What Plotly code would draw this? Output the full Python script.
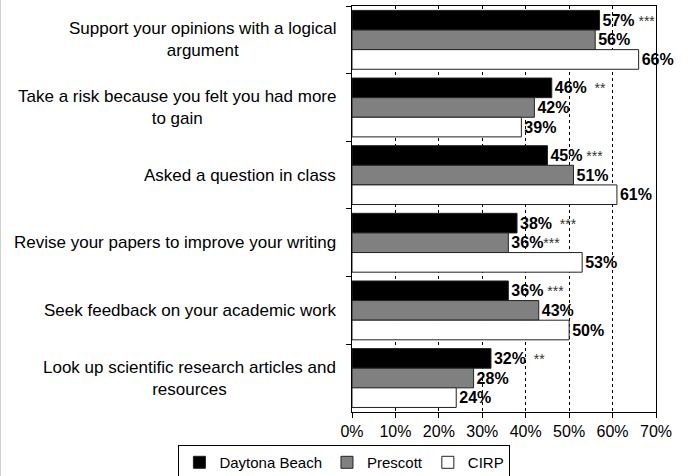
import plotly.graph_objects as go

categories = [
    "Support your opinions with a logical<br>argument",
    "Take a risk because you felt you had more<br>to gain",
    "Asked a question in class",
    "Revise your papers to improve your writing",
    "Seek feedback on your academic work",
    "Look up scientific research articles and<br>resources",
]
series_names = ["Daytona Beach", "Prescott", "CIRP"]
daytona = [57, 46, 45, 38, 36, 32]
prescott = [56, 42, 51, 36, 43, 28]
cirp = [66, 39, 61, 53, 50, 24]
daytona_sig = [" ***", "  **", " ***", "  ***", " ***", "  **"]
prescott_sig = ["", "", "", "***", "", ""]
cirp_sig = ["", "", "", "", "", ""]
x_ticks = [0, 10, 20, 30, 40, 50, 60, 70]

fills = ["#000000", "#808080", "#ffffff"]

W, H = 691, 476
ML, MR, MT, MB = 352, 35, 5, 63
plot_w = W - ML - MR

def labels(vals, sigs):
    out = []
    for v, s in zip(vals, sigs):
        t = f"<b>{v}%</b>"
        if s:
            t += f"<span style='font-size:14px;color:#333333'>{s}</span>"
        out.append(t)
    return out

fig = go.Figure()
for name, vals, sigs, col in zip(series_names, [daytona, prescott, cirp],
                                  [daytona_sig, prescott_sig, cirp_sig], fills):
    fig.add_trace(go.Bar(
        y=categories, x=vals, name=name, orientation="h",
        marker=dict(color=col, line=dict(color="#222222", width=1)),
        text=labels(vals, sigs), textposition="outside",
        constraintext="none", cliponaxis=False,
        textfont=dict(family="Arial, Liberation Sans", size=16, color="#000000"),
    ))

for c in categories:
    fig.add_annotation(
        x=0, xref="paper", y=c, yref="y", text=c, showarrow=False,
        xanchor="right", align="center", xshift=-14,
        font=dict(family="Arial, Liberation Sans", size=17, color="#000000"),
    )

# light grey frame edge at the left of the chart area
fig.add_shape(type="line", xref="paper", yref="paper",
              x0=-(ML - 0.5) / plot_w, x1=-(ML - 0.5) / plot_w, y0=-1, y1=2,
              line=dict(color="#d0d0d0", width=1), layer="below")

fig.update_layout(
    width=W, height=H,
    barmode="group", bargap=0.13, bargroupgap=0,
    margin=dict(l=ML, r=MR, t=MT, b=MB),
    paper_bgcolor="white", plot_bgcolor="white",
    font=dict(family="Arial, Liberation Sans", size=16, color="#000000"),
    showlegend=True,
    legend=dict(
        orientation="h", xref="paper", x=-0.025, xanchor="center",
        yref="container", y=0.065, yanchor="top",
        bordercolor="#000000", borderwidth=1, itemwidth=30,
        font=dict(size=15), tracegroupgap=0, itemclick=False,
    ),
)
fig.update_xaxes(
    range=[0, 70], tickvals=x_ticks, ticktext=[f"{t}%" for t in x_ticks],
    showgrid=True, gridcolor="#000000", griddash="dot", gridwidth=1,
    showline=True, linecolor="#000000", linewidth=1, mirror=True,
    ticks="outside", ticklen=5, tickcolor="#000000",
    tickfont=dict(size=16), zeroline=False,
)
fig.update_yaxes(
    autorange="reversed", showticklabels=False, tickson="boundaries",
    ticks="outside", ticklen=5, tickcolor="#000000",
    showline=True, linecolor="#000000", linewidth=1, mirror=True,
    showgrid=False,
)

fig.write_html("out.html", config={"displayModeBar": False},
               post_script="document.body.style.margin='0px';")
